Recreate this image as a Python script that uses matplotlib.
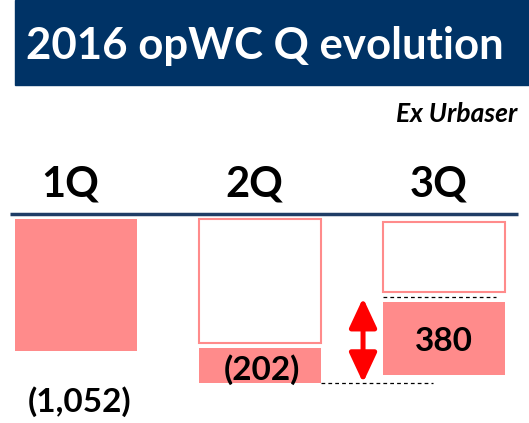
import matplotlib
matplotlib.use("Agg")
import matplotlib.pyplot as plt
from matplotlib.patches import Rectangle

# quarters and the values shown on the slide
quarters = ["1Q", "2Q", "3Q"]
value_labels = ["(1,052)", "(202)", "380"]

# segment extents (chart units, 0 = top line)
outline_top = [None, -25, -45]
outline_bottom = [None, -990, -590]
fill_top = [-25, -1030, -670]
fill_bottom = [-1052, -1300, -1240]

NAVY = "#003366"
PINK = "#FF8B8B"
FONT = ["Lato", "DejaVu Sans"]

fig = plt.figure(figsize=(5.29, 4.23), dpi=100)
ax = fig.add_axes([0, 0, 1, 1])
ax.set_xlim(-76 / 184, (529 - 76) / 184)
ax.set_ylim(-(423 - 216) * 7.8, 216 * 7.8)
ax.axis("off")

# title banner
fig.patches.append(Rectangle((15 / 529, 1 - 85 / 423), 1, 85 / 423,
                             transform=fig.transFigure, color=NAVY, zorder=0))
fig.text(265 / 529, 1 - 46 / 423, "2016 opWC Q evolution", color="white",
         fontsize=31.5, fontweight="bold", family=FONT, ha="center", va="center")
fig.text(517 / 529, 1 - 114 / 423, "Ex Urbaser", fontsize=19, fontweight="bold",
         fontstyle="italic", family=FONT, ha="right", va="center")

w = 0.66
x = [0, 1, 2]

# base line
ax.plot([-0.36, 2.40], [15, 15], color="#1F3D66", lw=2.5, solid_capstyle="butt")

for i, q in enumerate(quarters):
    ax.text(x[i] - 0.03, 242, q, fontsize=30, fontweight="bold", family=FONT,
            ha="center", va="center")
    if outline_top[i] is not None:
        ax.bar(x[i], outline_top[i] - outline_bottom[i], w, bottom=outline_bottom[i],
               facecolor="white", edgecolor=PINK, lw=1.5)
    ax.bar(x[i], fill_top[i] - fill_bottom[i], w, bottom=fill_bottom[i],
           color=PINK, lw=0)

# value labels
ax.text(x[0] + 0.02, -1450, value_labels[0], fontsize=24, fontweight="bold",
        family=FONT, ha="center", va="center")
ax.text(x[1] + 0.01, -1200, value_labels[1], fontsize=24, fontweight="bold",
        family=FONT, ha="center", va="center")
ax.text(x[2], -980, value_labels[2], fontsize=24, fontweight="bold",
        family=FONT, ha="center", va="center")

# dashed guide lines
ax.plot([x[1] + w / 2, 1.94], [fill_bottom[1], fill_bottom[1]], color="black",
        lw=0.9, ls=(0, (3, 2.5)))
ax.plot([x[2] - w / 2, 2.28], [-630, -630], color="black", lw=0.9, ls=(0, (3, 2.5)))

# red double arrow showing the 3Q change
ax.annotate("", xy=(1.56, fill_bottom[1]), xytext=(1.56, -640),
            arrowprops=dict(arrowstyle="<|-|>,head_length=0.9,head_width=0.42",
                            mutation_scale=20, color="red", lw=3.6,
                            shrinkA=0, shrinkB=0))

fig.savefig("out.png", dpi=100)
